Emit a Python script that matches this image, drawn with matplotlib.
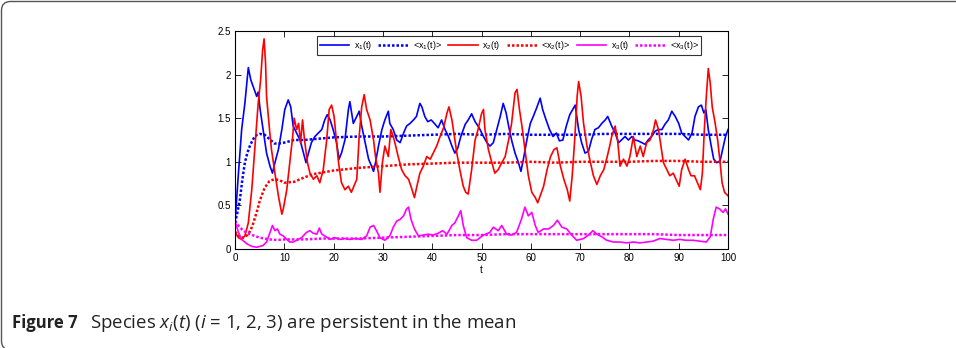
import matplotlib
matplotlib.use("Agg")
import matplotlib.pyplot as plt
from matplotlib.patches import FancyBboxPatch

# x1(t), blue
t1 = [0, 0.7, 1.35, 2, 2.7, 3.2, 3.7, 4.4, 4.7, 5.1, 5.7, 6.4, 7.1, 7.6, 8.1, 8.8, 9.5,
      10.1, 10.8, 11.3, 11.8, 12.5, 13.2, 13.9, 14.4, 14.9, 15.5, 16.2, 16.9, 17.6, 18.2,
      18.7, 19.3, 19.9, 20.6, 21.1, 21.6, 22.3, 23.0, 23.3, 24.0, 24.7, 25.2, 25.7, 26.4,
      27.1, 27.7, 28.1, 28.5, 29.1, 29.8, 30.4, 31.1, 31.4, 32.1, 32.8, 33.5, 34.2, 34.8,
      35.5, 36.2, 36.8, 37.5, 37.9, 38.5, 39.1, 39.8, 40.6, 41.2, 41.9, 42.6, 43.3, 44.0,
      44.6, 45.2, 45.8, 46.7, 47.3, 48.0, 48.7, 49.3, 49.7, 50.4, 51.1, 51.7, 52.4, 53.1,
      53.8, 54.4, 55.0, 55.5, 56.1, 56.8, 57.5, 58.0, 58.5, 59.2, 59.9, 60.5, 61.2, 61.9,
      62.4, 63.1, 63.8, 64.5, 65.2, 65.8, 66.5, 67.2, 67.9, 68.5, 69.0, 69.7, 70.3, 71.0,
      71.7, 72.3, 73.0, 73.7, 74.4, 75.1, 75.6, 76.4, 77.1, 77.8, 78.4, 79.1, 79.8, 80.5,
      81.1, 81.8, 82.5, 83.2, 83.8, 84.5, 85.2, 85.9, 86.6, 87.2, 87.9, 88.6, 89.3, 90.0,
      90.6, 91.3, 92.0, 92.7, 93.3, 94.0, 94.6, 95.1, 95.5, 96.0, 96.6, 97.1, 97.7, 98.4,
      98.9, 99.5, 100]
x1 = [0.3, 0.87, 1.37, 1.67, 2.08, 1.94, 1.86, 1.75, 1.8, 1.6, 1.37, 1.1, 0.95, 0.87, 0.99,
      1.14, 1.37, 1.6, 1.71, 1.63, 1.41, 1.33, 1.25, 1.1, 0.99, 1.1, 1.22, 1.29, 1.33, 1.37,
      1.48, 1.54, 1.48, 1.37, 1.22, 1.03, 1.1, 1.25, 1.6, 1.69, 1.44, 1.52, 1.58, 1.41, 1.22,
      1.03, 0.95, 0.89, 0.99, 1.18, 1.37, 1.48, 1.58, 1.44, 1.37, 1.25, 1.22, 1.33, 1.41,
      1.44, 1.48, 1.52, 1.67, 1.63, 1.52, 1.46, 1.48, 1.43, 1.39, 1.48, 1.37, 1.29, 1.18,
      1.1, 1.16, 1.29, 1.43, 1.48, 1.55, 1.46, 1.41, 1.37, 1.29, 1.22, 1.18, 1.22, 1.37,
      1.52, 1.67, 1.56, 1.41, 1.25, 1.1, 0.99, 0.89, 1.03, 1.25, 1.44, 1.52, 1.62, 1.73,
      1.6, 1.48, 1.37, 1.29, 1.33, 1.24, 1.25, 1.41, 1.54, 1.6, 1.65, 1.37, 1.22, 1.1,
      1.12, 1.25, 1.37, 1.39, 1.44, 1.48, 1.52, 1.41, 1.33, 1.22, 1.25, 1.29, 1.25, 1.29,
      1.25, 1.24, 1.22, 1.2, 1.25, 1.29, 1.35, 1.37, 1.37, 1.43, 1.48, 1.58, 1.52, 1.44,
      1.33, 1.29, 1.25, 1.33, 1.52, 1.63, 1.65, 1.56, 1.6, 1.37, 1.18, 1.03, 0.99, 1.01,
      1.14, 1.29, 1.37]

# x2(t), red
t2 = [0, 0.7, 1.35, 2, 2.7, 3.4, 4.05, 4.7, 5.2, 5.6, 5.9, 6.2, 6.4, 7.0, 7.4, 8.1, 8.8,
      9.5, 9.8, 10.5, 11.1, 11.7, 12.0, 12.5, 12.9, 13.3, 13.7, 14.1, 14.7, 15.2, 15.9,
      16.6, 17.2, 17.9, 18.6, 19.1, 19.6, 20.1, 20.5, 21.0, 21.6, 22.3, 23.0, 23.6, 24.7,
      25.2, 25.7, 26.2, 26.7, 27.4, 28.1, 28.5, 29.1, 29.4, 29.9, 30.4, 31.1, 31.6, 32.1,
      32.6, 33.1, 33.8, 34.5, 35.2, 35.8, 36.4, 36.9, 37.5, 38.2, 38.9, 39.6, 40.2, 40.9,
      41.6, 42.3, 43.0, 43.4, 44.0, 44.5, 45.0, 45.6, 46.3, 46.8, 47.3, 48.0, 48.7, 49.3,
      50.0, 50.4, 50.7, 51.4, 52.1, 52.7, 53.4, 54.1, 54.8, 55.5, 56.1, 56.8, 57.2, 57.7,
      58.2, 58.9, 59.5, 60.2, 60.9, 61.4, 61.9, 62.6, 63.3, 64.0, 64.7, 65.3, 66.0, 66.7,
      67.4, 67.9, 68.4, 68.9, 69.4, 69.7, 70.2, 70.7, 71.4, 72.1, 72.7, 73.4, 74.1, 74.8,
      75.5, 76.0, 76.4, 77.1, 77.6, 78.1, 78.8, 79.5, 80.1, 80.8, 81.5, 82.2, 82.8, 83.5,
      84.2, 84.9, 85.3, 85.9, 86.4, 86.9, 87.6, 88.2, 88.9, 89.6, 90.1, 90.6, 91.3, 92.0,
      92.5, 93.2, 93.8, 94.4, 94.8, 95.2, 95.6, 96.0, 96.4, 96.8, 97.4, 97.9, 98.4, 98.8,
      99.3, 100]
x2 = [0.19, 0.13, 0.11, 0.15, 0.3, 0.68, 1.18, 1.67, 1.94, 2.28, 2.41, 2.13, 1.75, 1.37,
      1.14, 0.87, 0.61, 0.4, 0.46, 0.68, 0.99, 1.29, 1.5, 1.37, 1.44, 1.22, 1.48, 1.25,
      0.99, 0.87, 0.8, 0.84, 0.76, 0.91, 1.25, 1.6, 1.65, 1.52, 1.29, 0.99, 0.76, 0.68,
      0.72, 0.65, 0.8, 1.3, 1.63, 1.77, 1.6, 1.48, 1.25, 1.06, 0.87, 0.65, 0.99, 1.18, 1.06,
      1.37, 1.29, 1.18, 1.06, 0.91, 0.84, 0.8, 0.7, 0.59, 0.72, 0.87, 0.95, 1.06, 1.03, 1.1,
      1.18, 1.29, 1.39, 1.56, 1.63, 1.48, 1.29, 1.1, 0.91, 0.72, 0.65, 0.63, 0.91, 1.25,
      1.37, 1.55, 1.6, 1.37, 1.14, 0.99, 0.87, 0.91, 0.99, 1.06, 1.25, 1.44, 1.79, 1.83,
      1.6, 1.41, 1.1, 0.84, 0.65, 0.59, 0.53, 0.61, 0.72, 0.91, 1.06, 1.14, 1.16, 0.95, 0.8,
      0.68, 0.55, 0.84, 1.25, 1.75, 1.92, 1.75, 1.44, 1.18, 0.99, 0.84, 0.74, 0.84, 0.91,
      1.06, 1.18, 1.29, 1.41, 1.25, 0.95, 1.03, 0.95, 1.06, 1.29, 1.06, 1.18, 1.06, 1.22,
      1.25, 1.37, 1.48, 1.37, 1.18, 0.99, 0.91, 0.84, 0.87, 0.78, 0.72, 0.91, 1.03, 0.91,
      0.84, 0.84, 0.76, 0.68, 0.87, 1.37, 1.75, 2.07, 1.9, 1.63, 1.44, 1.25, 0.99, 0.76,
      0.65, 0.61]

# x3(t), magenta
t3 = [0, 0.7, 1.35, 2.4, 3.4, 4.4, 5.7, 6.4, 7.1, 7.6, 8.1, 8.6, 9.1, 9.8, 10.5, 11.1, 11.8,
      12.5, 13.5, 14.5, 15.2, 15.9, 16.6, 17.1, 17.6, 18.2, 19.3, 20.3, 21.3, 22.3, 23.3,
      24.3, 25.7, 26.7, 27.4, 28.1, 28.7, 29.4, 30.4, 31.4, 32.1, 32.8, 33.5, 34.2, 34.8,
      35.2, 35.7, 36.4, 37.2, 38.2, 39.2, 40.2, 41.2, 42.1, 43.0, 44.0, 44.6, 45.3, 45.8,
      46.3, 47.0, 48.0, 49.0, 50.4, 51.7, 52.4, 53.4, 54.1, 55.1, 56.1, 57.1, 58.1, 58.8,
      59.5, 60.2, 60.9, 61.5, 62.6, 63.6, 64.6, 65.4, 66.3, 67.3, 68.3, 69.3, 70.7, 71.7,
      72.6, 73.4, 74.4, 75.4, 76.8, 78.1, 79.5, 80.8, 82.1, 83.5, 84.8, 86.2, 87.5, 88.9,
      90.2, 91.5, 92.9, 94.3, 95.6, 96.4, 97.0, 97.6, 98.3, 99.0, 99.5, 100]
x3 = [0.32, 0.19, 0.11, 0.06, 0.03, 0.02, 0.04, 0.08, 0.19, 0.27, 0.21, 0.23, 0.17, 0.15,
      0.11, 0.08, 0.08, 0.1, 0.13, 0.19, 0.21, 0.18, 0.17, 0.24, 0.17, 0.15, 0.11, 0.13,
      0.11, 0.12, 0.11, 0.12, 0.11, 0.15, 0.25, 0.27, 0.21, 0.13, 0.1, 0.15, 0.25, 0.32,
      0.34, 0.38, 0.46, 0.48, 0.34, 0.23, 0.15, 0.16, 0.17, 0.16, 0.18, 0.21, 0.17, 0.27,
      0.3, 0.38, 0.44, 0.27, 0.13, 0.1, 0.1, 0.16, 0.19, 0.25, 0.21, 0.27, 0.17, 0.16, 0.19,
      0.34, 0.48, 0.38, 0.42, 0.27, 0.19, 0.23, 0.23, 0.27, 0.33, 0.25, 0.23, 0.16, 0.1,
      0.12, 0.16, 0.21, 0.17, 0.14, 0.1, 0.08, 0.08, 0.07, 0.08, 0.07, 0.08, 0.09, 0.12,
      0.11, 0.1, 0.11, 0.1, 0.1, 0.09, 0.08, 0.14, 0.34, 0.48, 0.46, 0.42, 0.46, 0.4]

# time averages <x_i(t)>
tm = [0, 0.5, 1, 1.5, 2, 2.5, 3, 3.5, 4, 4.5, 5, 6, 7, 8, 9, 10, 12, 14, 16, 18, 20, 25,
      30, 35, 40, 45, 50, 55, 60, 65, 70, 75, 80, 85, 90, 95, 100]
m1 = [0.3, 0.42, 0.57, 0.8, 0.99, 1.1, 1.18, 1.24, 1.29, 1.31, 1.32, 1.31, 1.26, 1.21,
      1.21, 1.22, 1.25, 1.25, 1.26, 1.27, 1.28, 1.29, 1.29, 1.3, 1.31, 1.32, 1.31, 1.32,
      1.31, 1.31, 1.31, 1.32, 1.32, 1.32, 1.32, 1.31, 1.31]
m2 = [0.2, 0.16, 0.14, 0.13, 0.14, 0.16, 0.2, 0.26, 0.35, 0.44, 0.55, 0.7, 0.78, 0.8, 0.79,
      0.76, 0.77, 0.82, 0.86, 0.88, 0.9, 0.93, 0.95, 0.97, 0.98, 0.99, 0.99, 0.99, 1.0,
      0.99, 1.0, 1.0, 1.0, 1.01, 1.01, 1.0, 1.0]
m3 = [0.32, 0.28, 0.25, 0.22, 0.2, 0.18, 0.17, 0.16, 0.15, 0.14, 0.13, 0.12, 0.11, 0.105,
      0.105, 0.11, 0.11, 0.11, 0.115, 0.12, 0.12, 0.12, 0.13, 0.14, 0.15, 0.16, 0.16, 0.17,
      0.17, 0.17, 0.17, 0.17, 0.17, 0.17, 0.16, 0.16, 0.16]

BLUE, RED, MAG = "#0000ff", "#ff0000", "#ff00ff"

plt.rcParams["font.family"] = ["Liberation Sans", "DejaVu Sans"]
plt.rcParams["mathtext.default"] = "regular"

fig = plt.figure(figsize=(9.56, 3.48), dpi=100)
ax = fig.add_axes([235 / 956, 1 - 249 / 348, 493 / 956, 218 / 348])

dot = dict(linestyle=(0, (1, 0.8)), linewidth=1.8)
ax.plot(t1, x1, color=BLUE, lw=1.2, label="x$_1$(t)")
ax.plot(tm, m1, color=BLUE, label="<x$_1$(t)>", **dot)
ax.plot(t2, x2, color=RED, lw=1.2, label="x$_2$(t)")
ax.plot(tm, m2, color=RED, label="<x$_2$(t)>", **dot)
ax.plot(t3, x3, color=MAG, lw=1.2, label="x$_3$(t)")
ax.plot(tm, m3, color=MAG, label="<x$_3$(t)>", **dot)

ax.set_xlim(0, 100)
ax.set_ylim(0, 2.5)
ax.set_xticks(range(0, 101, 10))
ax.set_yticks([0, 0.5, 1, 1.5, 2, 2.5])
ax.set_yticklabels(["0", "0.5", "1", "1.5", "2", "2.5"])
ax.tick_params(direction="in", top=True, right=True, length=4, width=0.6,
               labelsize=7, pad=3)
for s in ax.spines.values():
    s.set_linewidth(0.8)
ax.set_xlabel("t", fontsize=7, labelpad=1)

leg = ax.legend(ncol=6, loc="upper center", bbox_to_anchor=(0.556, 0.975),
                fontsize=6.5, frameon=True, fancybox=False, edgecolor="black",
                handlelength=3.3, columnspacing=0.7, handletextpad=0.5,
                borderpad=0.3, borderaxespad=0)
leg.get_frame().set_linewidth(0.8)

# rounded frame around the figure panel (only top and left edges fall on the canvas)
frame = FancyBboxPatch((0.015, -0.02), 12, 3.48 - 0.015 + 0.02,
                       boxstyle="round,pad=0,rounding_size=0.09",
                       transform=fig.dpi_scale_trans, fill=False,
                       edgecolor="#555555", linewidth=1.0, clip_on=False)
fig.patches.append(frame)

cap_y = 1 - 323 / 348
fig.text(12 / 956, cap_y, "Figure 7", fontsize=12, fontweight="bold",
         family="Open Sans", va="center", color="#222222")
plt.rcParams["mathtext.fontset"] = "custom"
plt.rcParams["mathtext.rm"] = "Open Sans"
plt.rcParams["mathtext.it"] = "Open Sans:italic"
fig.text(90 / 956, cap_y, r"Species $\mathit{x_i}$($\mathit{t}$) ($\mathit{i}$ = 1, 2, 3) are persistent in the mean",
         fontsize=13.4, family="Open Sans", va="center", color="#222222")

fig.savefig("out.png", dpi=100)
